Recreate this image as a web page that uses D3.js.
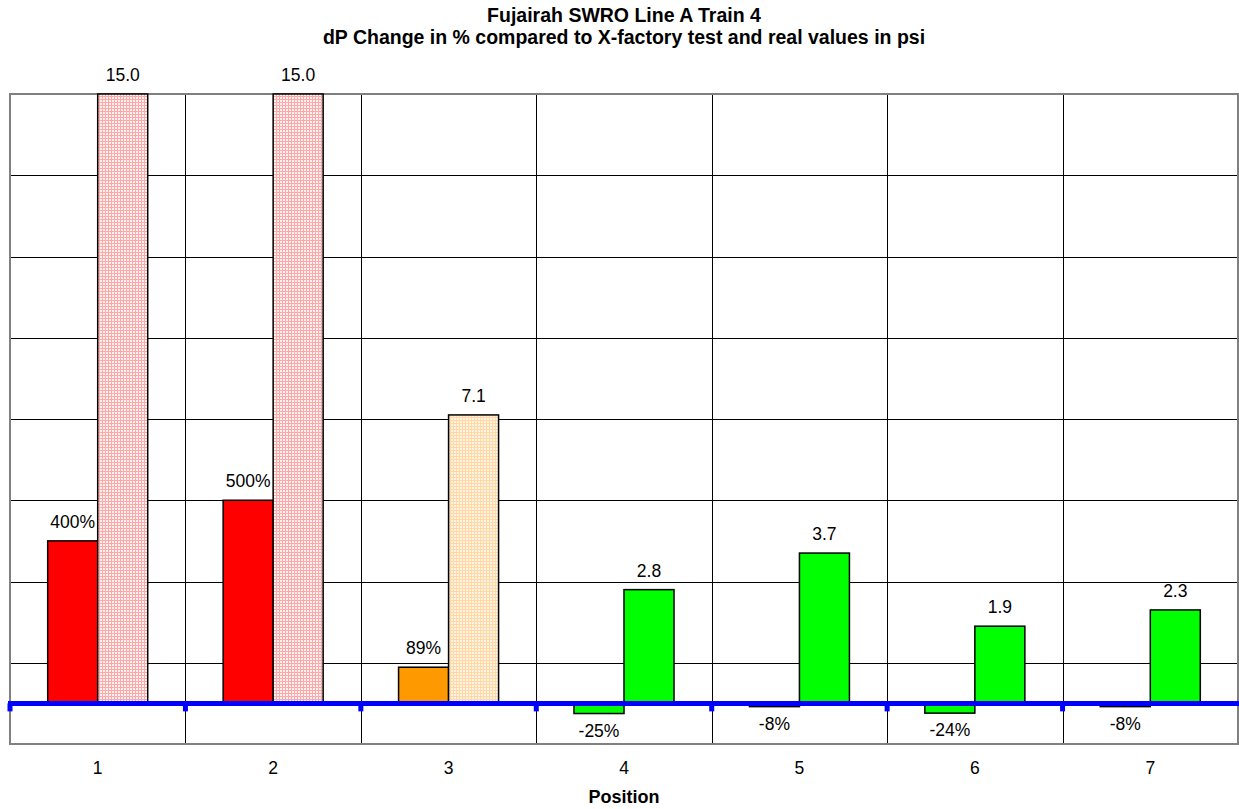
<!DOCTYPE html>
<html>
<head>
<meta charset="utf-8">
<script src="https://cdn.jsdelivr.net/npm/d3@7"></script>
<style>
  html, body { margin: 0; padding: 0; background: #fff; }
  svg { display: block; font-family: "Liberation Sans", Arial, sans-serif; }
</style>
</head>
<body>
<svg id="chart" width="1239" height="809"></svg>
<script>
// Positions along the train
const positions = ["1", "2", "3", "4", "5", "6", "7"];
// dP change versus X-factory test, in percent
const changePct = [400, 500, 89, -25, -8, -24, -8];
// Measured dP in psi (plotted on the same axis, 1 psi = 100 units)
const realPsi = [15.0, 15.0, 7.1, 2.8, 3.7, 1.9, 2.3];
// Fill per bar: percentage series and psi series
const pctFill = ["#FF0000", "#FF0000", "#FF9900", "#00FF00", "#00FF00", "#00FF00", "#00FF00"];
const psiFill = ["url(#hatchPink)", "url(#hatchPink)", "url(#hatchPeach)", "#00FF00", "#00FF00", "#00FF00", "#00FF00"];
// Value axis extent and gridline spacing
const yDomain = [-100, 1500];
const yGridStep = 200;

const svg = d3.select("#chart");
const plot = { left: 10, right: 1238, top: 94, bottom: 744 };

// Fine grid patterns used by the hatched bars
const defs = svg.append("defs");
function gridPattern(id, bg, line) {
  const p = defs.append("pattern")
    .attr("id", id).attr("patternUnits", "userSpaceOnUse")
    .attr("width", 3).attr("height", 3);
  p.append("rect").attr("width", 3).attr("height", 3).attr("fill", bg);
  p.append("rect").attr("width", 3).attr("height", 1).attr("fill", line);
  p.append("rect").attr("width", 1).attr("height", 3).attr("fill", line);
}
gridPattern("hatchPink", "#FFF2F2", "#FFA8A8");
gridPattern("hatchPeach", "#FFF3E6", "#FFD8A4");

const x = d3.scaleBand().domain(positions).range([plot.left, plot.right]).paddingInner(0).paddingOuter(0);
const xSeries = d3.scaleBand().domain(["pct", "psi"]).range([0, x.bandwidth()]).paddingInner(0).paddingOuter(0.754);
const y = d3.scaleLinear().domain(yDomain).range([plot.bottom, plot.top]);

// Horizontal gridlines (interior ones only; the frame covers the ends)
const hGrid = d3.range(yDomain[0], yDomain[1], yGridStep).filter(v => v > yDomain[0]);
svg.append("g").selectAll("line").data(hGrid).join("line")
  .attr("x1", plot.left).attr("x2", plot.right)
  .attr("y1", d => Math.round(y(d)) + 0.5).attr("y2", d => Math.round(y(d)) + 0.5)
  .attr("stroke", "#000").attr("stroke-width", 1);

// Vertical category separators
svg.append("g").selectAll("line").data(positions.slice(1)).join("line")
  .attr("x1", d => Math.round(x(d)) + 0.5).attr("x2", d => Math.round(x(d)) + 0.5)
  .attr("y1", plot.top).attr("y2", plot.bottom)
  .attr("stroke", "#000").attr("stroke-width", 1);

// Plot frame
svg.append("rect")
  .attr("x", plot.left).attr("y", plot.top)
  .attr("width", plot.right - plot.left).attr("height", plot.bottom - plot.top)
  .attr("fill", "none").attr("stroke", "#808080").attr("stroke-width", 2);

const rows = positions.map((p, i) => ({ p, pct: changePct[i], psi: realPsi[i], i }));

function barRect(g, key, valueOf, fillOf) {
  g.selectAll("rect." + key).data(rows).join("rect")
    .attr("class", key)
    .attr("x", d => x(d.p) + xSeries(key))
    .attr("width", xSeries.bandwidth())
    .attr("y", d => y(Math.max(0, valueOf(d))))
    .attr("height", d => Math.abs(y(valueOf(d)) - y(0)))
    .attr("fill", d => fillOf(d))
    .attr("stroke", "#000").attr("stroke-width", 1.5);
}
const bars = svg.append("g");
barRect(bars, "pct", d => d.pct, d => pctFill[d.i]);
barRect(bars, "psi", d => d.psi * 100, d => psiFill[d.i]);

// Zero baseline with blue ticks at the category boundaries
const zeroY = y(0);
const axis = svg.append("g");
axis.append("line")
  .attr("x1", plot.left - 2).attr("x2", plot.right + 1)
  .attr("y1", zeroY).attr("y2", zeroY)
  .attr("stroke", "#0000FF").attr("stroke-width", 5);
const tickXs = positions.map(p => x(p));
axis.selectAll("rect").data(tickXs).join("rect")
  .attr("x", d => d - 2.5).attr("y", zeroY).attr("width", 5).attr("height", 8)
  .attr("fill", "#0000FF");

// Value labels
const labels = svg.append("g").attr("font-size", 17.5).attr("fill", "#000").attr("text-anchor", "middle");
function labelPos(v) { return v >= 0 ? y(v) - 13 : y(v) + 23; }
labels.selectAll("text.pct").data(rows).join("text")
  .attr("class", "pct")
  .attr("x", d => x(d.p) + xSeries("pct") + xSeries.bandwidth() / 2)
  .attr("y", d => labelPos(d.pct))
  .text(d => d.pct + "%");
labels.selectAll("text.psi").data(rows).join("text")
  .attr("class", "psi")
  .attr("x", d => x(d.p) + xSeries("psi") + xSeries.bandwidth() / 2)
  .attr("y", d => labelPos(d.psi * 100))
  .text(d => d.psi.toFixed(1));

// Category labels
svg.append("g").attr("font-size", 17.5).attr("text-anchor", "middle")
  .selectAll("text").data(positions).join("text")
  .attr("x", d => x(d) + x.bandwidth() / 2)
  .attr("y", 774)
  .text(d => d);

// Axis title
svg.append("text").attr("x", (plot.left + plot.right) / 2).attr("y", 803)
  .attr("text-anchor", "middle").attr("font-size", 18).attr("font-weight", "bold")
  .text("Position");

// Chart title
const title = svg.append("text").attr("text-anchor", "middle")
  .attr("font-size", 19.5).attr("font-weight", "bold");
title.append("tspan").attr("x", 624).attr("y", 22).text("Fujairah SWRO Line A Train 4");
title.append("tspan").attr("x", 624).attr("y", 44).text("dP Change in % compared to X-factory test and real values in psi");
</script>
</body>
</html>
